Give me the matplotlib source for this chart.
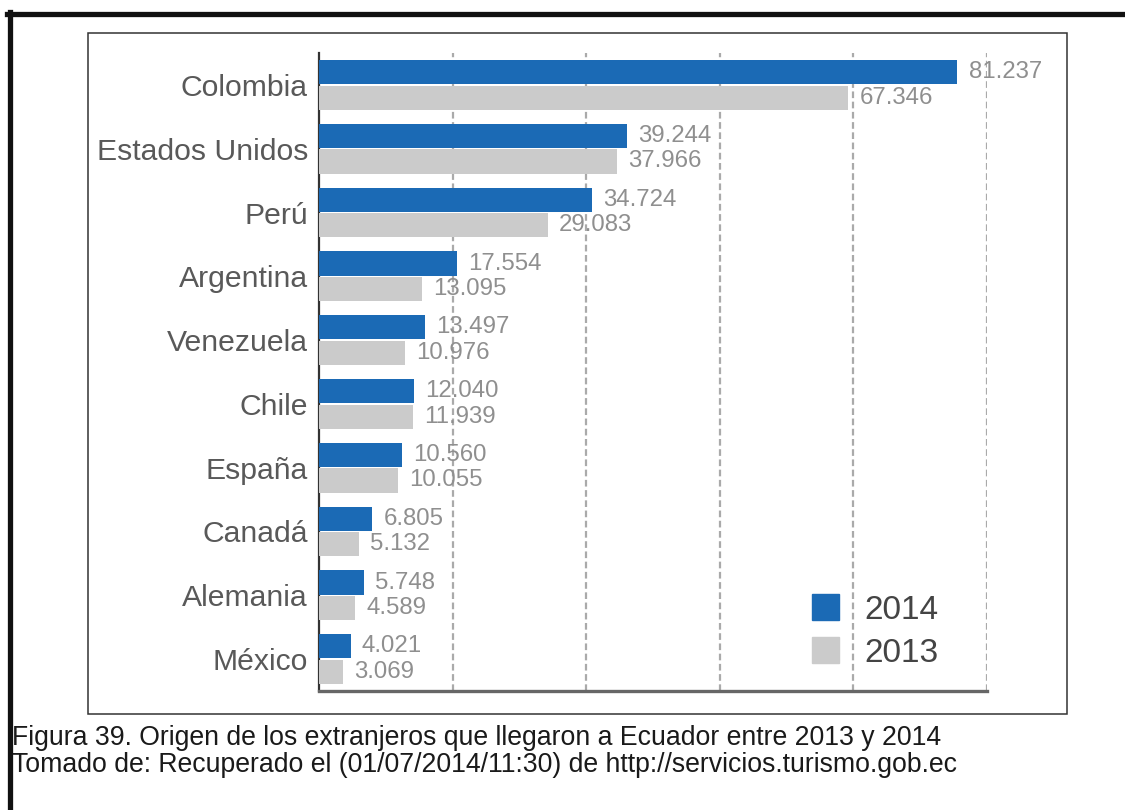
import numpy as np
import matplotlib
matplotlib.use("Agg")
import matplotlib.pyplot as plt
from matplotlib.patches import Patch, Rectangle
from matplotlib.lines import Line2D

# Llegadas de extranjeros por país de origen
paises = ["Colombia", "Estados Unidos", "Perú", "Argentina", "Venezuela",
          "Chile", "España", "Canadá", "Alemania", "México"]
llegadas_2014 = [81237, 39244, 34724, 17554, 13497, 12040, 10560, 6805, 5748, 4021]
llegadas_2013 = [67346, 37966, 29083, 13095, 10976, 11939, 10055, 5132, 4589, 3069]
anios = ["2014", "2013"]

AZUL = "#1b6ab5"
GRIS = "#cbcbcb"

plt.rcParams["font.family"] = ["Liberation Sans", "DejaVu Sans"]


def miles(v):
    return f"{v:,}".replace(",", ".")


fig = plt.figure(figsize=(11.25, 8.1), dpi=100)
W, H = 1125, 810

# marco exterior negro y recuadro del gráfico
fig.add_artist(Line2D([7 / W, 1], [1 - 13.5 / H, 1 - 13.5 / H], color="#111111", lw=3.8))
fig.add_artist(Line2D([9.5 / W, 9.5 / W], [0, 1 - 11.5 / H], color="#111111", lw=3.8))
fig.add_artist(Rectangle((88 / W, 1 - 714 / H), 979 / W, 681 / H, fill=False,
                         edgecolor="#333333", lw=1.1, transform=fig.transFigure))

ax = fig.add_axes([319 / W, 1 - 691 / H, 668 / W, 638 / H])

y = np.arange(len(paises))
alto = 0.38
b14 = ax.barh(y - 0.2, llegadas_2014, height=alto, color=AZUL, zorder=3)
b13 = ax.barh(y + 0.2, llegadas_2013, height=alto, color=GRIS, zorder=3)

for barras in (b14, b13):
    for rect in barras:
        v = rect.get_width()
        ax.annotate(miles(int(v)), (v, rect.get_y() + rect.get_height() / 2),
                    xytext=(8, 0), textcoords="offset points",
                    ha="left", va="center", fontsize=17.3, color="#8f8f8f", zorder=4)

ax.set_xlim(0, 85000)
ax.set_ylim(len(paises) - 0.5, -0.5)
ax.set_xticks([17000, 34000, 51000, 68000, 85000])
ax.set_xticklabels([])
ax.tick_params(axis="x", length=0)
ax.xaxis.grid(True, color="#aaaaaa", lw=1.6, dashes=(3, 1.6))
ax.set_axisbelow(True)

ax.set_yticks(y, paises)
ax.tick_params(axis="y", length=0, pad=8, labelsize=21.7, labelcolor="#595959")

for lado in ("top", "right"):
    ax.spines[lado].set_visible(False)
ax.spines["left"].set_color("#333333")
ax.spines["left"].set_linewidth(1.6)
ax.spines["bottom"].set_color("#666666")
ax.spines["bottom"].set_linewidth(2.4)

handles = [Patch(color=AZUL), Patch(color=GRIS)]
ax.legend(handles, anios, loc="lower right", bbox_to_anchor=(0.927, 0.035),
          frameon=False, fontsize=24, handlelength=0.8, handleheight=0.8,
          handletextpad=0.75, labelspacing=0.35, borderpad=0, borderaxespad=0,
          labelcolor="#444444")

fig.text(12 / W, 1 - 745 / H,
         "Figura 39. Origen de los extranjeros que llegaron a Ecuador entre 2013 y 2014",
         fontsize=19.2, color="#1a1a1a", va="baseline", ha="left")
fig.text(12 / W, 1 - 772 / H,
         "Tomado de: Recuperado el (01/07/2014/11:30) de http://servicios.turismo.gob.ec",
         fontsize=19.2, color="#1a1a1a", va="baseline", ha="left")

fig.savefig("out.png", dpi=100)
